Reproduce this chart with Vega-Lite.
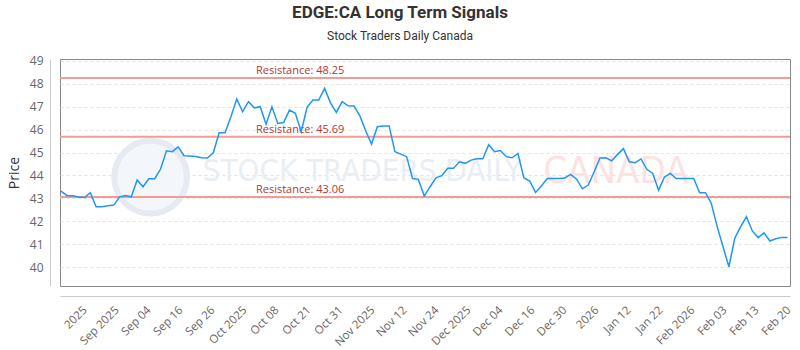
{
  "$schema": "https://vega.github.io/schema/vega-lite/v6.json",
  "width": 730,
  "height": 227,
  "autosize": "none",
  "padding": {"left": 60, "top": 59, "right": 10, "bottom": 64},
  "background": "white",
  "config": {
    "font": "Open Sans",
    "view": {"stroke": "#888888", "strokeWidth": 1},
    "axis": {"labelOverlap": false}
  },
  "title": {
    "text": "EDGE:CA Long Term Signals",
    "subtitle": "Stock Traders Daily Canada",
    "anchor": "middle",
    "frame": "group",
    "dx": -25,
    "font": "Roboto",
    "fontSize": 17,
    "fontWeight": "bold",
    "color": "#333333",
    "subtitleFont": "Roboto",
    "subtitleFontSize": 12,
    "subtitleColor": "#333333",
    "subtitlePadding": 9,
    "offset": 12
  },
  "datasets": {
    "prices": [
      {"t": 0, "price": 43.32}, {"t": 1, "price": 43.13}, {"t": 2, "price": 43.12}, {"t": 3, "price": 43.06},
      {"t": 4, "price": 43.04}, {"t": 5, "price": 43.25}, {"t": 6, "price": 42.64}, {"t": 7, "price": 42.64},
      {"t": 8, "price": 42.68}, {"t": 9, "price": 42.71}, {"t": 10, "price": 43.07}, {"t": 11, "price": 43.13},
      {"t": 12, "price": 43.07}, {"t": 13, "price": 43.80}, {"t": 14, "price": 43.51}, {"t": 15, "price": 43.86},
      {"t": 16, "price": 43.86}, {"t": 17, "price": 44.28}, {"t": 18, "price": 45.08}, {"t": 19, "price": 45.04},
      {"t": 20, "price": 45.25}, {"t": 21, "price": 44.86}, {"t": 22, "price": 44.85}, {"t": 23, "price": 44.83},
      {"t": 24, "price": 44.77}, {"t": 25, "price": 44.76}, {"t": 26, "price": 44.99}, {"t": 27, "price": 45.86},
      {"t": 28, "price": 45.86}, {"t": 29, "price": 46.56}, {"t": 30, "price": 47.33}, {"t": 31, "price": 46.78},
      {"t": 32, "price": 47.22}, {"t": 33, "price": 46.95}, {"t": 34, "price": 47.00}, {"t": 35, "price": 46.24},
      {"t": 36, "price": 47.00}, {"t": 37, "price": 46.27}, {"t": 38, "price": 46.31}, {"t": 39, "price": 46.85},
      {"t": 40, "price": 46.71}, {"t": 41, "price": 45.91}, {"t": 42, "price": 46.97}, {"t": 43, "price": 47.29},
      {"t": 44, "price": 47.29}, {"t": 45, "price": 47.80}, {"t": 46, "price": 47.17}, {"t": 47, "price": 46.75},
      {"t": 48, "price": 47.22}, {"t": 49, "price": 47.04}, {"t": 50, "price": 47.03}, {"t": 51, "price": 46.61},
      {"t": 52, "price": 45.95}, {"t": 53, "price": 45.37}, {"t": 54, "price": 46.13}, {"t": 55, "price": 46.16},
      {"t": 56, "price": 46.16}, {"t": 57, "price": 45.04}, {"t": 58, "price": 44.93}, {"t": 59, "price": 44.82},
      {"t": 60, "price": 43.87}, {"t": 61, "price": 43.83}, {"t": 62, "price": 43.10}, {"t": 63, "price": 43.51},
      {"t": 64, "price": 43.90}, {"t": 65, "price": 43.99}, {"t": 66, "price": 44.31}, {"t": 67, "price": 44.31},
      {"t": 68, "price": 44.60}, {"t": 69, "price": 44.53}, {"t": 70, "price": 44.67}, {"t": 71, "price": 44.73},
      {"t": 72, "price": 44.73}, {"t": 73, "price": 45.34}, {"t": 74, "price": 45.04}, {"t": 75, "price": 45.09},
      {"t": 76, "price": 44.82}, {"t": 77, "price": 44.77}, {"t": 78, "price": 44.96}, {"t": 79, "price": 43.90},
      {"t": 80, "price": 43.76}, {"t": 81, "price": 43.26}, {"t": 82, "price": 43.54}, {"t": 83, "price": 43.87},
      {"t": 84, "price": 43.87}, {"t": 85, "price": 43.87}, {"t": 86, "price": 43.89}, {"t": 87, "price": 44.05},
      {"t": 88, "price": 43.84}, {"t": 89, "price": 43.42}, {"t": 90, "price": 43.58}, {"t": 91, "price": 44.16},
      {"t": 92, "price": 44.76}, {"t": 93, "price": 44.77}, {"t": 94, "price": 44.64}, {"t": 95, "price": 44.92},
      {"t": 96, "price": 45.17}, {"t": 97, "price": 44.60}, {"t": 98, "price": 44.56}, {"t": 99, "price": 44.72},
      {"t": 100, "price": 44.27}, {"t": 101, "price": 44.09}, {"t": 102, "price": 43.36}, {"t": 103, "price": 43.93},
      {"t": 104, "price": 44.09}, {"t": 105, "price": 43.87}, {"t": 106, "price": 43.87}, {"t": 107, "price": 43.87},
      {"t": 108, "price": 43.87}, {"t": 109, "price": 43.25}, {"t": 110, "price": 43.25}, {"t": 111, "price": 42.78},
      {"t": 112, "price": 41.77}, {"t": 113, "price": 40.89}, {"t": 114, "price": 40.02}, {"t": 115, "price": 41.26},
      {"t": 116, "price": 41.77}, {"t": 117, "price": 42.20}, {"t": 118, "price": 41.58}, {"t": 119, "price": 41.29},
      {"t": 120, "price": 41.50}, {"t": 121, "price": 41.14}, {"t": 122, "price": 41.24}, {"t": 123, "price": 41.30},
      {"t": 124, "price": 41.30}
    ],
    "levels": [
      {"level": 48.25, "label": "Resistance: 48.25"},
      {"level": 45.69, "label": "Resistance: 45.69"},
      {"level": 43.06, "label": "Resistance: 43.06"}
    ],
    "watermark": [
      {"part": "STOCK TRADERS DAILY"}
    ]
  },
  "layer": [
    {
      "data": {"name": "watermark"},
      "mark": {"type": "point", "filled": true, "size": 5300, "fill": "#f3f6fa", "stroke": "#e6ebf3", "strokeWidth": 6, "opacity": 1},
      "encoding": {
        "x": {"datum": 15.3, "type": "quantitative", "scale": {"domain": [-0.17, 124.43], "nice": false, "zero": false}},
        "y": {"datum": 43.93, "type": "quantitative", "scale": {"domain": [39.18, 49.08], "nice": false, "zero": false}}
      }
    },
    {
      "data": {"name": "watermark"},
      "mark": {"type": "text", "text": "STOCK TRADERS DAILY", "align": "left", "baseline": "middle", "font": "Liberation Sans Narrow, DejaVu Sans Condensed, Roboto", "fontSize": 31, "fill": "#e9eef5"},
      "encoding": {
        "x": {"datum": 24.2, "type": "quantitative"},
        "y": {"datum": 44.15, "type": "quantitative"}
      }
    },
    {
      "data": {"name": "watermark"},
      "mark": {"type": "text", "text": "CANADA", "align": "left", "baseline": "middle", "font": "Liberation Sans Narrow, DejaVu Sans Condensed, Roboto", "fontSize": 38, "fill": "#fde2e2"},
      "encoding": {
        "x": {"datum": 82.3, "type": "quantitative"},
        "y": {"datum": 44.15, "type": "quantitative"}
      }
    },
    {
      "data": {"name": "levels"},
      "mark": {"type": "rule", "color": "#f19c94", "strokeWidth": 2},
      "encoding": {
        "y": {"field": "level", "type": "quantitative"}
      }
    },
    {
      "data": {"name": "levels"},
      "mark": {"type": "text", "align": "left", "baseline": "bottom", "dy": -2, "fontSize": 11, "color": "#b03a30"},
      "encoding": {
        "x": {"datum": 33.28, "type": "quantitative"},
        "y": {"field": "level", "type": "quantitative"},
        "text": {"field": "label"}
      }
    },
    {
      "data": {"name": "prices"},
      "mark": {"type": "line", "color": "#2196f3", "strokeWidth": 1.5},
      "encoding": {
        "x": {
          "field": "t",
          "type": "quantitative",
          "scale": {"domain": [-0.17, 124.43], "nice": false, "zero": false},
          "axis": {
            "title": null,
            "values": [3.36, 8.82, 14.28, 19.74, 25.2, 30.66, 36.12, 41.58, 47.04, 52.5, 57.96, 63.42, 68.88, 74.34, 79.8, 85.26, 90.72, 96.18, 101.64, 107.1, 112.56, 118.02, 123.48],
            "tickCount": 40,
            "labelExpr": "['2025','Sep 2025','Sep 04','Sep 16','Sep 26','Oct 2025','Oct 08','Oct 21','Oct 31','Nov 2025','Nov 12','Nov 24','Dec 2025','Dec 04','Dec 16','Dec 30','2026','Jan 12','Jan 22','Feb 2026','Feb 03','Feb 13','Feb 20'][round((datum.value - 3.36) / 5.46)]",
            "labelAngle": -45,
            "labelFontSize": 11.5,
            "labelColor": "#666666",
            "labelPadding": 8,
            "labelOverlap": false,
            "labelBound": false,
            "labelFlush": false,
            "ticks": false,
            "grid": false,
            "offset": 10,
            "domainColor": "#cccccc"
          }
        },
        "y": {
          "field": "price",
          "type": "quantitative",
          "scale": {"domain": [39.18, 49.08], "nice": false, "zero": false},
          "axis": {
            "title": "Price",
            "titleFontSize": 14,
            "titleFontWeight": "normal",
            "titleColor": "#333333",
            "titlePadding": 8,
            "values": [40, 41, 42, 43, 44, 45, 46, 47, 48, 49],
            "tickCount": 20,
            "format": "d",
            "labelFontSize": 12,
            "labelColor": "#666666",
            "labelPadding": 7,
            "labelOverlap": false,
            "ticks": false,
            "grid": true,
            "gridDash": [3, 3],
            "gridColor": "#e3e3e3",
            "offset": 10,
            "domainColor": "#cccccc"
          }
        }
      }
    }
  ]
}
